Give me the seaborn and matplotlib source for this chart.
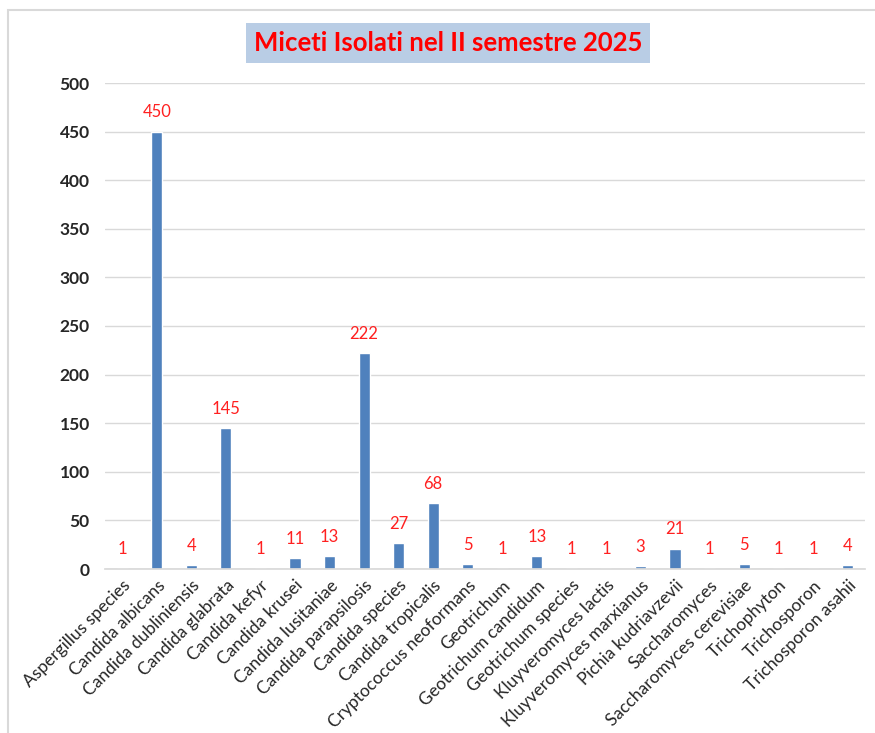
import matplotlib
matplotlib.use("Agg")
import matplotlib.pyplot as plt
import seaborn as sns
import pandas as pd
from matplotlib.patches import Rectangle

categories = ["Aspergillus species", "Candida albicans", "Candida dubliniensis",
              "Candida glabrata", "Candida kefyr", "Candida krusei",
              "Candida lusitaniae", "Candida parapsilosis", "Candida species",
              "Candida tropicalis", "Cryptococcus neoformans", "Geotrichum",
              "Geotrichum candidum", "Geotrichum species", "Kluyveromyces lactis",
              "Kluyveromyces marxianus", "Pichia kudriavzevii", "Saccharomyces",
              "Saccharomyces cerevisiae", "Trichophyton", "Trichosporon",
              "Trichosporon asahii"]
values = [1, 450, 4, 145, 1, 11, 13, 222, 27, 68, 5, 1, 13, 1, 1, 3, 21, 1, 5, 1, 1, 4]
yticks = list(range(0, 501, 50))
title = "Miceti Isolati nel II semestre 2025"

sns.set_theme(style="white")
plt.rcParams['font.family'] = ['Lato', 'DejaVu Sans']

df = pd.DataFrame({"cat": categories, "val": values})

fig = plt.figure(figsize=(8.75, 7.33), dpi=100)
ax = fig.add_axes([105/875, 1-569/733, 760/875, (569-83)/733])

sns.barplot(data=df, x="cat", y="val", color="#4F81BD", width=0.32,
            saturation=1, ax=ax)

ax.set_ylim(0, 500)
ax.set_yticks(yticks)
ax.set_yticklabels([str(t) for t in yticks], fontweight="bold", fontsize=12.5)
ax.set_xlabel("")
ax.set_ylabel("")
ax.grid(axis="y", color="#D9D9D9", linewidth=1)
ax.set_axisbelow(True)
for s in ["top", "right", "left"]:
    ax.spines[s].set_visible(False)
ax.spines["bottom"].set_color("#D9D9D9")
ax.tick_params(axis="both", length=0, pad=11)
ax.tick_params(axis="x", pad=6)
plt.setp(ax.get_xticklabels(), rotation=45, ha="right", rotation_mode="anchor",
         fontsize=12.5)

for i, v in enumerate(values):
    ax.annotate(str(v), (i, v), xytext=(0, 8), textcoords="offset points",
                ha="center", va="bottom", color="#FF2020", fontsize=12)

fig.text(448/875, 1-43/733, title, ha="center", va="center", color="#FF0000",
         fontsize=18.5, fontweight="bold",
         bbox=dict(boxstyle="square,pad=0.3", facecolor="#B9CDE5", edgecolor="none"))

fig.patches.append(Rectangle((8/875, -0.01), 1.0, 1-10/733 + 0.01,
                             transform=fig.transFigure, fill=False,
                             edgecolor="#D9D9D9", linewidth=1.5))

fig.savefig("out.png", dpi=100)
